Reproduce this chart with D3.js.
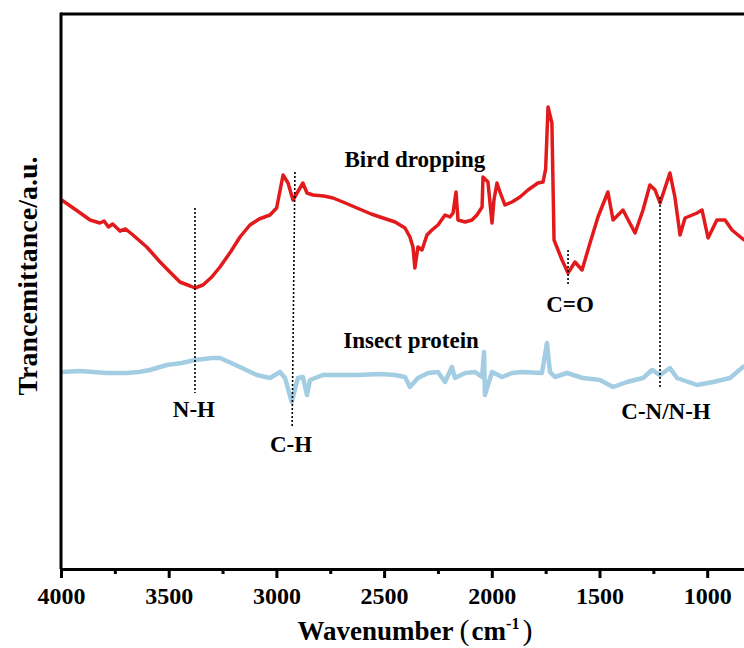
<!DOCTYPE html>
<html>
<head>
<meta charset="utf-8">
<script src="https://cdn.jsdelivr.net/npm/d3@7"></script>
<style>
  body { margin: 0; background: #fff; }
  svg { display: block; }
  text { font-family: "Liberation Serif", "Times New Roman", serif; font-weight: bold; fill: #000; }
</style>
</head>
<body>
<svg id="chart"></svg>
<script>
//chart size
const w = 744, h = 648;

//bird dropping spectrum: wavenumber, transmittance (a.u.)
const birdWave = [3997, 3930, 3865, 3820, 3800, 3780, 3760, 3726, 3700, 3666, 3602, 3540, 3490, 3448, 3400, 3378, 3341, 3300, 3262, 3210, 3169, 3123, 3080, 3030, 2999, 2969, 2946, 2923, 2877, 2858, 2830, 2780, 2737, 2680, 2626, 2560, 2505, 2449, 2403, 2380, 2366, 2357, 2343, 2324, 2301, 2278, 2250, 2217, 2194, 2180, 2166, 2157, 2124, 2092, 2069, 2045, 2041, 2018, 1999, 1990, 1976, 1962, 1939, 1906, 1869, 1832, 1786, 1762, 1750, 1739, 1721, 1711, 1674, 1646, 1614, 1581, 1544, 1507, 1498, 1461, 1437, 1391, 1335, 1298, 1266, 1242, 1219, 1173, 1150, 1126, 1103, 1047, 1024, 996, 955, 917, 885, 829, 801];
const birdVal  = [369, 359, 349, 346, 348, 342, 345, 338, 340, 334, 322, 307, 296, 287, 283, 281, 284, 292, 302, 318, 332, 344, 350, 354, 361, 394, 386, 369, 386, 376, 374, 373, 371, 366, 361, 355, 351, 347, 341, 332, 322, 301, 322, 319, 334, 339, 344, 354, 352, 356, 377, 349, 347, 349, 354, 362, 392, 387, 346, 369, 386, 377, 364, 367, 372, 379, 386, 387, 400, 462, 446, 329, 309, 296, 307, 299, 326, 352, 357, 377, 349, 359, 336, 359, 384, 379, 366, 396, 372, 334, 351, 356, 359, 331, 349, 349, 339, 329, 333];

//insect protein spectrum
const insectWave = [3997, 3912, 3850, 3788, 3695, 3640, 3587, 3509, 3440, 3378, 3300, 3262, 3169, 3091, 3030, 2983, 2960, 2929, 2900, 2877, 2858, 2844, 2784, 2700, 2626, 2520, 2449, 2403, 2380, 2343, 2296, 2250, 2217, 2185, 2171, 2124, 2078, 2045, 2036, 2032, 1999, 1953, 1906, 1860, 1767, 1744, 1730, 1707, 1651, 1577, 1498, 1437, 1372, 1298, 1256, 1219, 1173, 1140, 1047, 973, 894, 834, 801];
const insectVal  = [197, 198, 197, 196, 196, 197, 199, 204, 206, 209, 211, 211, 202, 194, 191, 197, 191, 167, 191, 192, 174, 189, 194, 194, 194, 195, 194, 192, 182, 191, 196, 197, 187, 202, 191, 196, 197, 192, 217, 174, 197, 192, 196, 197, 196, 226, 197, 192, 196, 191, 189, 182, 187, 191, 199, 194, 201, 191, 184, 187, 191, 202, 204];

//band markers: wavenumber at top / bottom, top / bottom value
const bandNames   = ["N-H", "C-H", "C=O", "C-N/N-H"];
const bandWaveTop = [3378, 2914, 1646, 1219];
const bandWaveBot = [3378, 2927, 1646, 1219];
const bandTop     = [361, 397, 319, 372];
const bandBot     = [176, 142, 284, 181];

//text labels: text, wavenumber (centre), value (baseline)
const labelText = ["Bird dropping", "Insect protein", "N-H", "C-H", "C=O", "C-N/N-H"];
const labelWave = [2357, 2375, 3383, 2932, 1637, 1191];
const labelVal  = [402, 221, 152, 117, 257, 150];

//axis ticks
const majorTicks = [4000, 3500, 3000, 2500, 2000, 1500, 1000];
const minorTicks = [3750, 3250, 2750, 2250, 1750, 1250, 750];

const svg = d3.select("#chart").attr("width", w).attr("height", h);

const plotLeft = 61, plotTop = 14, plotBottom = 569;

//scales (x reversed, runs past the right edge)
const x = d3.scaleLinear().domain([4000, 700]).range([plotLeft, plotLeft + 3300 * 0.2154]);
const y = d3.scaleLinear().domain([0, 555]).range([plotBottom, plotTop]);

const line = d3.line().x(d => x(d[0])).y(d => y(d[1]));

//spectra
svg.append("path")
    .datum(insectWave.map((d, i) => [d, insectVal[i]]))
    .attr("d", line)
    .attr("fill", "none")
    .attr("stroke", "#a3cde3")
    .attr("stroke-width", 4.5)
    .attr("stroke-linejoin", "round");

svg.append("path")
    .datum(birdWave.map((d, i) => [d, birdVal[i]]))
    .attr("d", line)
    .attr("fill", "none")
    .attr("stroke", "#e31a1c")
    .attr("stroke-width", 3.5)
    .attr("stroke-linejoin", "round");

//dotted band markers
svg.selectAll(".band")
    .data(bandNames)
    .join("line")
    .attr("class", "band")
    .attr("x1", (d, i) => x(bandWaveTop[i]))
    .attr("x2", (d, i) => x(bandWaveBot[i]))
    .attr("y1", (d, i) => y(bandTop[i]))
    .attr("y2", (d, i) => y(bandBot[i]))
    .attr("stroke", "#000")
    .attr("stroke-width", 1.6)
    .attr("stroke-dasharray", "2,2");

//labels
svg.selectAll(".lbl")
    .data(labelText)
    .join("text")
    .attr("class", "lbl")
    .attr("x", (d, i) => x(labelWave[i]))
    .attr("y", (d, i) => y(labelVal[i]))
    .attr("text-anchor", "middle")
    .style("font-size", "23px")
    .text(d => d);

//frame: left and top
svg.append("line")
    .attr("x1", plotLeft).attr("x2", plotLeft).attr("y1", plotTop - 1.5).attr("y2", plotBottom)
    .attr("stroke", "#000").attr("stroke-width", 3);
svg.append("line")
    .attr("x1", plotLeft).attr("x2", w + 10).attr("y1", plotTop).attr("y2", plotTop)
    .attr("stroke", "#000").attr("stroke-width", 3);

//bottom axis
const gx = svg.append("g").attr("transform", `translate(0,${plotBottom})`);
gx.call(d3.axisBottom(x).tickValues(majorTicks).tickSize(9).tickPadding(9).tickFormat(d3.format("d")));
gx.attr("font-family", null);
gx.select(".domain").attr("stroke-width", 3);
gx.selectAll(".tick line").attr("stroke-width", 3);
gx.selectAll(".tick text").style("font-size", "24px");

const gm = svg.append("g").attr("transform", `translate(0,${plotBottom})`);
gm.call(d3.axisBottom(x).tickValues(minorTicks).tickSize(5).tickFormat(""));
gm.select(".domain").remove();
gm.selectAll(".tick line").attr("stroke-width", 3);

//axis titles
const xt = svg.append("text")
    .attr("x", 415).attr("y", 640)
    .attr("text-anchor", "middle")
    .style("font-size", "27px");
xt.append("tspan").text("Wavenumber");
xt.append("tspan").attr("dx", 6).style("font-weight", "normal").style("font-size", "30px").text("(");
xt.append("tspan").attr("dx", 2).text("cm");
xt.append("tspan").attr("dy", -11).style("font-size", "16px").text("-1");
xt.append("tspan").attr("dy", 11).attr("dx", 3).style("font-weight", "normal").style("font-size", "30px").text(")");

svg.append("text")
    .attr("transform", "translate(37,276) rotate(-90)")
    .attr("text-anchor", "middle")
    .style("font-size", "28px")
    .text("Trancemittance/a.u.");
</script>
</body>
</html>
